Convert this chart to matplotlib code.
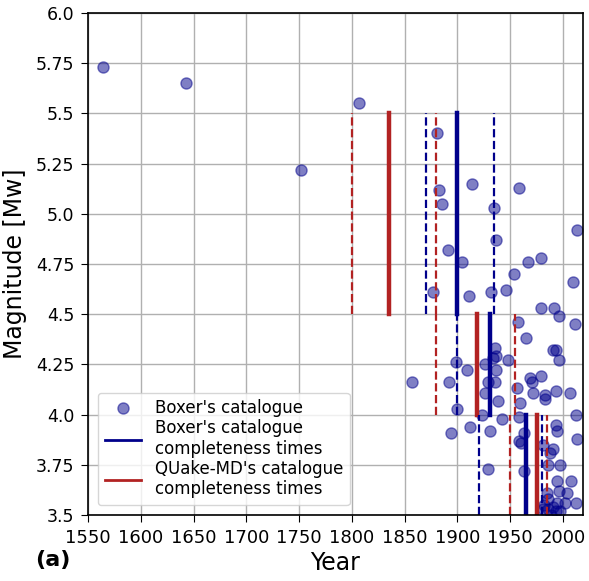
import numpy as np
import matplotlib
matplotlib.use('Agg')
import matplotlib.pyplot as plt
from matplotlib.lines import Line2D

# Boxer's catalogue events (year, Mw)
years = [1564, 1643, 1752, 1807, 1857, 1877, 1881, 1883, 1885, 1891,
         1892, 1894, 1899, 1900, 1904, 1909, 1911, 1912, 1914, 1923,
         1926, 1926, 1929, 1929, 1931, 1932, 1935, 1934, 1936, 1937,
         1937, 1937, 1936, 1938, 1942, 1946, 1948, 1954, 1956, 1957,
         1958, 1958, 1958, 1960, 1959.5, 1963, 1963, 1965, 1967, 1969,
         1971, 1972, 1979, 1979, 1979, 1983, 1983, 1981, 1988, 1986,
         1991, 1991, 1993, 1992, 1993, 1993, 1994, 1996, 1996, 1997,
         1994, 2008, 1985, 1996, 2004, 2007, 2010, 2011, 2012, 2013,
         2013, 2012, 1982, 1986, 1994, 2002, 1986, 1993, 1997, 1981,
         1991, 1989]
mags = [5.73, 5.65, 5.22, 5.55, 4.16, 4.61, 5.40, 5.12, 5.05, 4.82,
        4.16, 3.91, 4.26, 4.03, 4.76, 4.22, 4.59, 3.94, 5.15, 4.00,
        4.25, 4.11, 4.16, 3.73, 3.92, 4.61, 5.03, 4.28, 4.33, 4.29,
        4.87, 4.22, 4.16, 4.07, 3.98, 4.62, 4.27, 4.70, 4.13, 4.46,
        5.13, 3.99, 3.87, 3.86, 4.06, 3.91, 3.72, 4.38, 4.76, 4.18,
        4.16, 4.11, 4.78, 4.53, 4.19, 4.10, 4.08, 3.85, 3.81, 3.75,
        3.83, 4.32, 4.32, 4.53, 4.12, 3.95, 3.92, 4.49, 4.27, 3.75,
        3.67, 3.67, 3.61, 3.62, 3.61, 4.11, 4.66, 4.45, 4.00, 4.92,
        3.88, 3.56, 3.55, 3.58, 3.56, 3.56, 3.53, 3.52, 3.52, 3.53,
        3.54, 3.50]

# completeness times: magnitude bins, best estimate, lower / upper bound
bin_lo = [4.5, 4.0, 3.5]
bin_hi = [5.5, 4.5, 4.0]
boxer_t = [1900, 1931, 1965]
boxer_lo = [1870, 1900, 1920]
boxer_hi = [1935, None, 1980]
quake_t = [1835, 1919, 1975]
quake_lo = [1800, 1880, 1950]
quake_hi = [1880, 1955, 1985]

blue = 'darkblue'
red = 'firebrick'

fig = plt.figure(figsize=(5.89, 5.81), dpi=100)
ax = fig.add_axes([0.1494, 0.1136, 0.8404, 0.864])

ax.plot(years, mags, 'o', color=blue, alpha=0.5, ms=8)

for i in range(3):
    yy = [bin_lo[i], bin_hi[i]]
    ax.plot([boxer_t[i]] * 2, yy, color=blue, lw=3.2, solid_capstyle='projecting')
    ax.plot([quake_t[i]] * 2, yy, color=red, lw=3.2, solid_capstyle='projecting')
    for t in [boxer_lo[i], boxer_hi[i]]:
        if t is not None:
            ax.plot([t] * 2, yy, color=blue, lw=1.6, ls='--')
    for t in [quake_lo[i], quake_hi[i]]:
        ax.plot([t] * 2, yy, color=red, lw=1.6, ls='--')

ax.set_xlim(1550, 2019)
ax.set_ylim(3.5, 6.0)
xt = np.arange(1550, 2001, 50)
ax.set_xticks(xt)
ax.set_xticklabels([str(x) for x in xt], fontsize=13)
yt = [3.5, 3.75, 4.0, 4.25, 4.5, 4.75, 5.0, 5.25, 5.5, 5.75, 6.0]
ax.set_yticks(yt)
ax.set_yticklabels([str(y) for y in yt], fontsize=12.5)
ax.tick_params(length=5, pad=5)
ax.grid(True, color='#b0b0b0', lw=1)
ax.set_axisbelow(True)
for s in ax.spines.values():
    s.set_color('black')
    s.set_linewidth(1.2)

ax.set_xlabel('Year', fontsize=17, labelpad=3)
ax.set_ylabel('Magnitude [Mw]', fontsize=17, labelpad=6)

handles = [Line2D([], [], marker='o', ls='', color=blue, alpha=0.5, ms=8),
           Line2D([], [], color=blue, lw=2),
           Line2D([], [], color=red, lw=2)]
labels = ["Boxer's catalogue", "Boxer's catalogue\ncompleteness times",
          "QUake-MD's catalogue\ncompleteness times"]
ax.legend(handles, labels, loc='lower left', fontsize=12, handlelength=2.2,
          labelspacing=0.1, borderaxespad=0.6)

fig.text(0.06, 0.025, '(a)', fontsize=16, fontweight='bold')

fig.savefig('out.png', dpi=100)
